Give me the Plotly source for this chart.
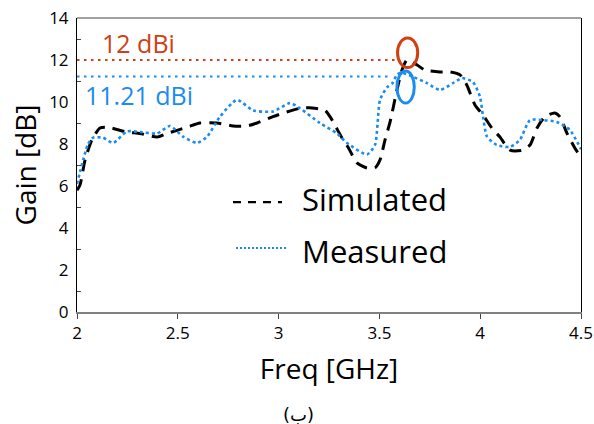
import plotly.graph_objects as go

# Simulated gain (GHz, dB)
freq_sim = [2.0, 2.015, 2.04, 2.074, 2.114, 2.149, 2.248, 2.3125, 2.397, 2.446,
            2.546, 2.61, 2.694, 2.774, 2.843, 2.893, 2.972, 3.022, 3.106, 3.166,
            3.23, 3.255, 3.314, 3.344, 3.389, 3.438, 3.478, 3.503, 3.528, 3.553,
            3.587, 3.612, 3.637, 3.687, 3.726, 3.80, 3.85, 3.90, 3.934, 3.974,
            4.014, 4.058, 4.098, 4.148, 4.212, 4.247, 4.282, 4.32, 4.37, 4.396,
            4.43, 4.47, 4.5]
gain_sim = [5.8, 6.05, 7.24, 8.2, 8.76, 8.8, 8.57, 8.5, 8.33, 8.5,
            8.8, 9.0, 9.0, 8.86, 8.86, 9.0, 9.3, 9.47, 9.7, 9.72,
            9.6, 9.3, 8.3, 7.86, 7.1, 6.86, 6.86, 7.24, 8.2, 9.05,
            10.57, 11.52, 12.0, 11.76, 11.52, 11.43, 11.43, 11.29, 10.8, 9.86,
            9.38, 8.76, 8.33, 7.71, 7.71, 7.95, 8.76, 9.29, 9.48, 9.29,
            8.52, 7.8, 7.38]

# Measured gain (GHz, dB)
freq_meas = [2.0, 2.055, 2.08, 2.129, 2.179, 2.248, 2.3125, 2.397, 2.461, 2.526,
             2.595, 2.645, 2.709, 2.794, 2.873, 2.972, 3.057, 3.106, 3.205, 3.29,
             3.339, 3.438, 3.478, 3.503, 3.538, 3.565, 3.587, 3.607, 3.667, 3.736,
             3.80, 3.865, 3.91, 3.964, 3.999, 4.014, 4.034, 4.083, 4.148, 4.197,
             4.247, 4.31, 4.38, 4.445, 4.5]
gain_meas = [6.1, 8.0, 8.3, 8.3, 8.05, 8.6, 8.57, 8.5, 8.86, 8.35,
             8.05, 8.35, 9.3, 10.1, 9.6, 9.55, 9.95, 9.7, 9.0, 8.5,
             8.05, 7.5, 7.95, 10.1, 10.7, 10.9, 11.3, 11.4, 11.2, 10.9,
             10.57, 10.9, 11.14, 10.95, 10.25, 9.3, 8.35, 7.95, 7.86, 8.2,
             9.14, 9.14, 9.05, 8.67, 7.75]

# Peak gains and where they occur
peak_labels = ["12 dBi", "11.21 dBi"]
peak_gain = [12.0, 11.21]
peak_freq = [3.64, 3.63]

x_ticks = [2, 2.5, 3, 3.5, 4, 4.5]
y_ticks = [0, 2, 4, 6, 8, 10, 12, 14]

ORANGE = "#CF4013"
BLUE = "#1A8CF0"
FONT = "Open Sans"

fig = go.Figure()

fig.add_trace(go.Scatter(
    x=freq_sim, y=gain_sim, mode="lines", name="Simulated",
    line=dict(color="black", width=3, dash="12px,8px", shape="spline", smoothing=0.6),
    showlegend=False))
fig.add_trace(go.Scatter(
    x=freq_meas, y=gain_meas, mode="lines", name="Measured",
    line=dict(color=BLUE, width=2.6, dash="3px,3px", shape="spline", smoothing=0.6),
    showlegend=False))

# Dotted peak reference lines
fig.add_trace(go.Scatter(
    x=[2.0, peak_freq[0] - 0.05], y=[peak_gain[0], peak_gain[0]], mode="lines",
    line=dict(color=ORANGE, width=2, dash="2.5px,4.5px"), showlegend=False, hoverinfo="skip"))
fig.add_trace(go.Scatter(
    x=[2.0, peak_freq[1] - 0.07], y=[peak_gain[1], peak_gain[1]], mode="lines",
    line=dict(color=BLUE, width=2, dash="2.5px,4.5px"), showlegend=False, hoverinfo="skip"))

shapes = [
    # ellipses marking the peaks
    dict(type="circle", xref="x", yref="y",
         x0=peak_freq[0] - 0.05, x1=peak_freq[0] + 0.05,
         y0=peak_gain[0] - 0.36, y1=peak_gain[0] + 1.05,
         line=dict(color=ORANGE, width=3)),
    dict(type="circle", xref="x", yref="y",
         x0=peak_freq[1] - 0.043, x1=peak_freq[1] + 0.043,
         y0=peak_gain[1] - 1.26, y1=peak_gain[1] + 0.27,
         line=dict(color=BLUE, width=3)),
    # top border of the frame
    dict(type="line", xref="paper", yref="paper", x0=0, x1=1, y0=1, y1=1,
         line=dict(color="#444444", width=1.2)),
    # legend samples
    dict(type="line", xref="paper", yref="paper", x0=0.3095, x1=0.4067, y0=0.374, y1=0.374,
         line=dict(color="black", width=2.2, dash="8px,7px")),
    dict(type="line", xref="paper", yref="paper", x0=0.3155, x1=0.4147, y0=0.2177, y1=0.2177,
         line=dict(color=BLUE, width=2, dash="2px,2px")),
]

annotations = [
    dict(x=2.114, y=12.81, xref="x", yref="y", text=peak_labels[0], showarrow=False,
         xanchor="left", yanchor="middle", font=dict(family=FONT, size=25, color=ORANGE)),
    dict(x=2.03, y=10.33, xref="x", yref="y", text=peak_labels[1], showarrow=False,
         xanchor="left", yanchor="middle", font=dict(family=FONT, size=25, color=BLUE)),
    dict(x=0.4425, y=0.3827, xref="paper", yref="paper", text="Simulated", showarrow=False,
         xanchor="left", yanchor="middle", font=dict(family=FONT, size=31, color="black")),
    dict(x=0.4425, y=0.2058, xref="paper", yref="paper", text="Measured", showarrow=False,
         xanchor="left", yanchor="middle", font=dict(family=FONT, size=31, color="black")),
    dict(x=0.4385, y=-0.35, xref="paper", yref="paper", text="(ب)", showarrow=False,
         xanchor="center", yanchor="middle", font=dict(family="DejaVu Sans", size=18, color="black")),
]

fig.update_layout(
    width=594, height=424,
    margin=dict(l=77, r=13, t=18, b=112, autoexpand=False),
    paper_bgcolor="white", plot_bgcolor="white",
    font=dict(family=FONT, color="black"),
    shapes=shapes, annotations=annotations,
    showlegend=False,
)

fig.update_xaxes(
    range=[2, 4.5], tickvals=x_ticks, ticktext=[f"{v:g}" for v in x_ticks],
    automargin=False,
    showgrid=False, zeroline=False,
    showline=True, linecolor="#808080", linewidth=2, mirror=False,
    ticks="outside", ticklen=5, tickcolor="#444444", tickwidth=1,
    tickfont=dict(family=FONT, size=17, color="black"),
    title=dict(text="Freq [GHz]", font=dict(family=FONT, size=28, color="black"), standoff=16),
)
fig.update_yaxes(
    range=[0, 14], tickvals=y_ticks, ticktext=[str(v) for v in y_ticks],
    automargin=False,
    showgrid=False, zeroline=False,
    showline=True, linecolor="black", linewidth=1, mirror=True,
    ticks="", ticklabelstandoff=4,
    minor=dict(ticks="inside", tick0=1, dtick=2, ticklen=4, tickcolor="#444444"),
    tickfont=dict(family=FONT, size=17, color="black"),
    title=dict(text="Gain [dB]", font=dict(family=FONT, size=28, color="black"), standoff=4),
)

fig.write_html("out.html")
